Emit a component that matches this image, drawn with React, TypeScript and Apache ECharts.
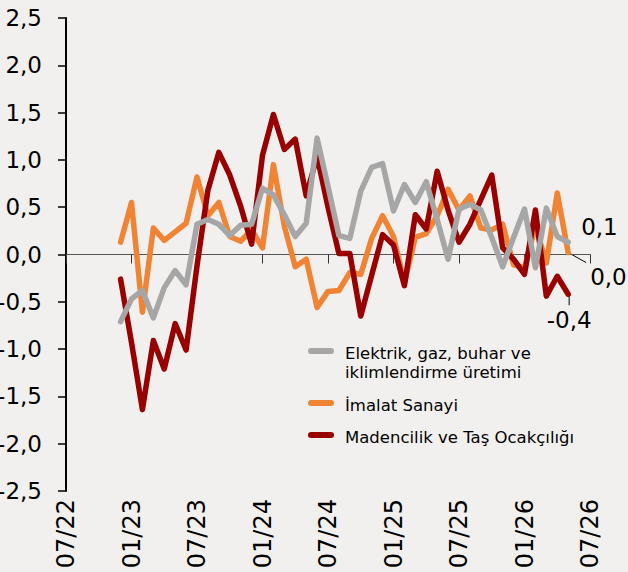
import React, { useEffect, useRef } from "react";
import * as echarts from "echarts";

// Category axis: monthly, 07/22 .. 07/26
const axisStart = { year: 22, month: 7 };
const axisMonthCount = 49;
const axisMonths: string[] = [];
for (let i = 0; i < axisMonthCount; i++) {
  const m = ((axisStart.month - 1 + i) % 12) + 1;
  const y = axisStart.year + Math.floor((axisStart.month - 1 + i) / 12);
  axisMonths.push(String(m).padStart(2, "0") + "/" + String(y));
}

const dataStart = "12/22";

const seriesNames = [
  "Elektrik, gaz, buhar ve\niklimlendirme üretimi",
  "İmalat Sanayi",
  "Madencilik ve Taş Ocakçılığı",
];

const elektrik = [
  -0.71, -0.47, -0.38, -0.67, -0.35, -0.17, -0.32, 0.32, 0.37, 0.32,
  0.2, 0.31, 0.32, 0.7, 0.63, 0.42, 0.19, 0.33, 1.23, 0.72,
  0.2, 0.17, 0.67, 0.92, 0.96, 0.46, 0.74, 0.55, 0.77, 0.37,
  -0.05, 0.48, 0.53, 0.47, 0.18, -0.13, 0.18, 0.48, -0.14, 0.49,
  0.19, 0.13,
];

const imalat = [
  0.13, 0.55, -0.61, 0.28, 0.15, 0.24, 0.33, 0.82, 0.41, 0.55,
  0.19, 0.14, 0.26, 0.07, 0.95, 0.3, -0.13, -0.05, -0.56, -0.39,
  -0.38, -0.19, -0.21, 0.17, 0.41, 0.19, -0.3, 0.18, 0.22, 0.41,
  0.69, 0.47, 0.62, 0.28, 0.26, 0.32, -0.11, -0.14, 0.3, -0.09,
  0.65, 0.02,
];

const madencilik = [
  -0.26, -0.93, -1.64, -0.91, -1.21, -0.73, -1.01, -0.12, 0.68, 1.08,
  0.84, 0.51, 0.11, 1.05, 1.48, 1.11, 1.22, 0.62, 1.04, 0.5,
  0.01, 0.01, -0.65, -0.22, 0.21, 0.1, -0.33, 0.42, 0.27, 0.88,
  0.47, 0.13, 0.32, 0.58, 0.84, 0.07, -0.05, -0.21, 0.47, -0.44,
  -0.23, -0.42,
];

const colors = { gray: "#A6A6A6", orange: "#F08434", red: "#990000" };
const bg = "#F2F0EE";
const fontFamily = '"DejaVu Sans", Verdana, sans-serif';

const fmt = (v: number) => v.toFixed(1).replace(".", ",");

export default function App() {
  const ref = useRef<HTMLDivElement>(null);

  useEffect(() => {
    if (!ref.current) return;
    const chart = echarts.init(ref.current, undefined, { renderer: "svg" });
    const startIdx = axisMonths.indexOf(dataStart);
    const toData = (vals: number[]) => vals.map((v, i) => [startIdx + i, v]);

    const lineSeries = (name: string, vals: number[], color: string) => ({
      name,
      type: "line",
      xAxisIndex: 0,
      yAxisIndex: 0,
      data: toData(vals),
      showSymbol: false,
      symbol: "none",
      lineStyle: { color, width: 5.5, join: "round", cap: "round" },
      itemStyle: { color },
      emphasis: { disabled: true },
    });

    chart.setOption({
      animation: false,
      backgroundColor: bg,
      grid: { left: 66, right: 38, top: 18, bottom: 81, containLabel: false, outerBoundsMode: "none" },
      xAxis: [
        {
          type: "category",
          data: axisMonths,
          boundaryGap: false,
          position: "bottom",
          axisLine: { show: false, onZero: false },
          axisTick: { show: false },
          splitLine: { show: false },
          axisLabel: {
            interval: 5,
            rotate: 90,
            margin: 8,
            color: "#000",
            fontSize: 24,
            fontFamily,
          },
        },
        {
          type: "category",
          data: axisMonths,
          boundaryGap: false,
          position: "bottom",
          axisLine: { show: true, onZero: true, lineStyle: { color: "#555", width: 1 } },
          axisTick: { show: true, interval: 5, length: 9, lineStyle: { color: "#333", width: 1 } },
          axisLabel: { show: false },
          splitLine: { show: false },
        },
      ],
      yAxis: {
        type: "value",
        min: -2.5,
        max: 2.5,
        interval: 0.5,
        axisLine: { show: true, lineStyle: { color: "#000", width: 2 } },
        axisTick: { show: true, length: 8, lineStyle: { color: "#000", width: 1.5 } },
        splitLine: { show: false },
        axisLabel: {
          formatter: (v: number) => fmt(v),
          color: "#000",
          fontSize: 23,
          fontFamily,
          margin: 24,
        },
      },
      series: [
        lineSeries(seriesNames[1], imalat, colors.orange),
        lineSeries(seriesNames[2], madencilik, colors.red),
        lineSeries(seriesNames[0], elektrik, colors.gray),
      ],
    });

    const lastPt = (vals: number[]) =>
      chart.convertToPixel({ xAxisIndex: 0, yAxisIndex: 0 }, [startIdx + vals.length - 1, vals[vals.length - 1]]) as number[];

    const g = lastPt(elektrik);
    const o = lastPt(imalat);
    const r = lastPt(madencilik);

    const endText = (text: string, x: number, y: number, align: string) => ({
      type: "text",
      x,
      y,
      silent: true,
      style: {
        text,
        fill: "#000",
        font: `23px ${fontFamily}`,
        align,
        textAlign: align,
        verticalAlign: "middle",
        textVerticalAlign: "middle",
      },
    });

    const leader = (x1: number, y1: number, x2: number, y2: number) => ({
      type: "line",
      silent: true,
      shape: { x1, y1, x2, y2 },
      style: { stroke: "#000", lineWidth: 1 },
    });

    const legendRow = (color: string, y: number) => ({
      type: "line",
      silent: true,
      shape: { x1: 311, y1: y, x2: 331, y2: y },
      style: { stroke: color, lineWidth: 6, lineCap: "round" },
    });

    const legendText = (text: string, y: number) => ({
      type: "text",
      x: 345,
      y,
      silent: true,
      style: {
        text,
        fill: "#000",
        font: `16.5px ${fontFamily}`,
        align: "left",
        textAlign: "left",
        verticalAlign: "middle",
        textVerticalAlign: "middle",
      },
    });

    const [gLine1, gLine2] = seriesNames[0].split("\n");

    chart.setOption({
      graphic: [
        endText(fmt(elektrik[elektrik.length - 1]), g[0] + 13, g[1] - 15, "left"),
        leader(o[0] + 2, o[1] + 1, o[0] + 18, o[1] + 10),
        endText(fmt(imalat[imalat.length - 1]), o[0] + 22, o[1] + 24, "left"),
        leader(r[0] + 1, r[1] + 2, r[0] + 1, r[1] + 11),
        endText(fmt(madencilik[madencilik.length - 1]), r[0] + 1, r[1] + 26, "center"),
        legendRow(colors.gray, 351),
        legendText(gLine1, 353),
        legendText(gLine2, 372.5),
        legendRow(colors.orange, 403),
        legendText(seriesNames[1], 405),
        legendRow(colors.red, 435),
        legendText(seriesNames[2], 437),
      ],
    });

    return () => chart.dispose();
  }, []);

  return (
    <div
      ref={ref}
      style={{ position: "fixed", left: 0, top: 0, width: 628, height: 572, background: bg }}
    />
  );
}
